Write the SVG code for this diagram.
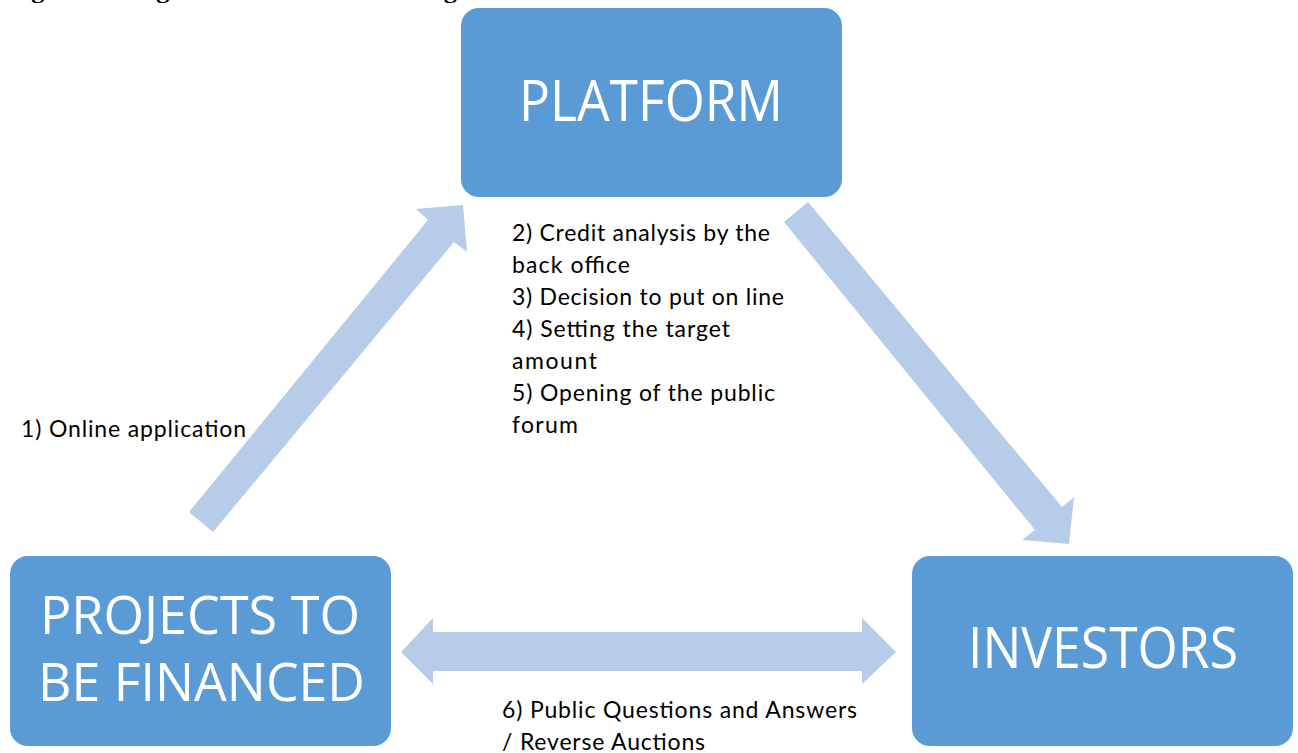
<svg xmlns="http://www.w3.org/2000/svg" width="1298" height="753" viewBox="0 0 1298 753">
<style>
.box{fill:#5B9BD5}
.big{font-family:"Open Sans","Liberation Sans",sans-serif;fill:#fff;font-size:56px}
.big2{font-family:"Open Sans","Liberation Sans",sans-serif;fill:#fff;font-size:53px}
.lbl{font-family:Lato,"Open Sans","Liberation Sans",sans-serif;fill:#000;font-size:23px}
.arrow{fill:#B7CCE8}
.title{font-family:"Liberation Serif",serif;font-weight:bold;font-size:22px;fill:#000}
</style>
<rect width="1298" height="753" fill="#fff"/>
<text class="title" x="8" y="-2.5" textLength="527" lengthAdjust="spacingAndGlyphs">Figure 1: Diagram of the Crowdfunding Model</text>
<g id="connectors">
<polygon class="arrow" points="189,512 428,220 416,209 463,205 467,252 454,242 213,532"/>
<polygon class="arrow" points="808,202 1062,507 1074,497 1069,544 1022,540 1035,530 784,222"/>
<polygon class="arrow" points="401,652 433,618 433,632 862,632 862,618 896,652 862,684 862,671 433,671 433,684"/>
</g>
<g id="platform">
<rect class="box" x="461" y="8" width="381" height="189" rx="18"/>
<text class="big" x="519" y="121" textLength="264" lengthAdjust="spacingAndGlyphs">PLATFORM</text>
</g>
<g id="projects">
<rect class="box" x="10" y="556" width="381" height="190" rx="18"/>
<text class="big2" x="40" y="634" textLength="320" lengthAdjust="spacingAndGlyphs">PROJECTS TO</text>
<text class="big2" x="38" y="701" textLength="327" lengthAdjust="spacingAndGlyphs">BE FINANCED</text>
</g>
<g id="investors">
<rect class="box" x="912" y="556" width="381" height="190" rx="18"/>
<text class="big" x="968" y="668" textLength="270" lengthAdjust="spacingAndGlyphs">INVESTORS</text>
</g>
<g id="labels">
<text class="lbl" x="21" y="437" textLength="225">1) Online application</text>
<text class="lbl" x="512" y="241" textLength="258">2) Credit analysis by the</text>
<text class="lbl" x="512" y="273" textLength="118">back office</text>
<text class="lbl" x="512" y="305" textLength="272">3) Decision to put on line</text>
<text class="lbl" x="512" y="337" textLength="218">4) Setting the target</text>
<text class="lbl" x="512" y="369" textLength="85">amount</text>
<text class="lbl" x="512" y="401" textLength="263">5) Opening of the public</text>
<text class="lbl" x="512" y="433" textLength="66">forum</text>
<text class="lbl" x="502" y="718" textLength="355">6) Public Questions and Answers</text>
<text class="lbl" x="502" y="750" textLength="203">/ Reverse Auctions</text>
</g>
</svg>
